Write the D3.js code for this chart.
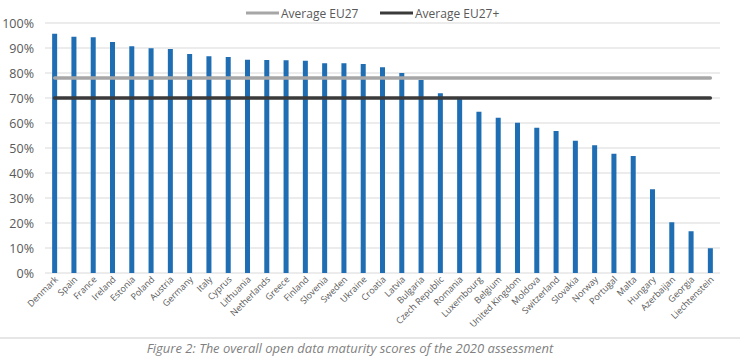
<!DOCTYPE html>
<html><head><meta charset="utf-8">
<script src="https://cdn.jsdelivr.net/npm/d3@7"></script>
<style>body{margin:0;background:#fff}svg{display:block}</style>
</head><body><svg id="c" width="740" height="358"></svg>
<script>
const countries = ["Denmark","Spain","France","Ireland","Estonia","Poland","Austria","Germany","Italy","Cyprus","Lithuania","Netherlands","Greece","Finland","Slovenia","Sweden","Ukraine","Croatia","Latvia","Bulgaria","Czech Republic","Romania","Luxembourg","Belgium","United Kingdom","Moldova","Switzerland","Slovakia","Norway","Portugal","Malta","Hungary","Azerbaijan","Georgia","Liechtenstein"];
const scores = [95.7,94.5,94.3,92.4,90.7,89.9,89.6,87.6,86.7,86.4,85.3,85.2,85.1,84.9,83.9,83.9,83.6,82.3,80.0,77.2,71.9,69.9,64.5,62.1,60.1,58.1,56.8,52.9,51.1,47.7,46.8,33.5,20.3,16.7,9.9];
const avgEU27 = 78;
const avgEU27plus = 70;
const yTicks = [0,10,20,30,40,50,60,70,80,90,100];
const legendLabels = ["Average EU27","Average EU27+"];
const caption = "Figure 2: The overall open data maturity scores of the 2020 assessment";

const svg = d3.select("#c");
const font = "'Open Sans', sans-serif";
const m = {left:45, right:20, top:23, bottom:85};
const W = 740, H = 358;
const x = d3.scaleBand().domain(countries).range([m.left, W - m.right]).paddingInner(0.74).paddingOuter(0.37);
const y = d3.scaleLinear().domain([0,100]).range([273, 23]);

// grid
svg.append("g").selectAll("line").data(yTicks).join("line")
  .attr("x1", m.left).attr("x2", W - m.right)
  .attr("y1", d => y(d)).attr("y2", d => y(d))
  .attr("stroke", "#d9d9d9").attr("stroke-width", 1);

// y axis labels
const ya = svg.append("g").attr("transform", `translate(${m.left},0)`)
  .call(d3.axisLeft(y).tickValues(yTicks).tickFormat(d => d + "%").tickSize(0).tickPadding(11));
ya.select(".domain").remove();
ya.selectAll("text").attr("font-family", font).attr("font-size", 12.5).attr("fill", "#595959");

// bars
svg.append("g").selectAll("rect").data(countries).join("rect")
  .attr("x", d => x(d)).attr("width", x.bandwidth())
  .attr("y", (d,i) => y(scores[i])).attr("height", (d,i) => y(0) - y(scores[i]))
  .attr("fill", "#1f6db3");

// x axis labels
const xa = svg.append("g").attr("transform", `translate(0,${y(0)})`)
  .call(d3.axisBottom(x).tickSize(0).tickPadding(0));
xa.select(".domain").remove();
xa.selectAll("text")
  .attr("font-family", font).attr("font-size", 9).attr("fill", "#595959")
  .attr("text-anchor", "end").attr("dy", 0)
  .attr("transform", "translate(4,7) rotate(-45)");

// average lines
const x0 = x(countries[0]) + x.bandwidth()/2;
const x1 = x(countries[countries.length-1]) + x.bandwidth()/2;
svg.append("line").attr("x1", x0).attr("x2", x1).attr("y1", y(avgEU27)).attr("y2", y(avgEU27))
  .attr("stroke", "#a6a6a6").attr("stroke-width", 3.5).attr("stroke-linecap", "round");
svg.append("line").attr("x1", x0).attr("x2", x1).attr("y1", y(avgEU27plus)).attr("y2", y(avgEU27plus))
  .attr("stroke", "#3a3a3a").attr("stroke-width", 3.5).attr("stroke-linecap", "round");

// legend
const lg = [{label: legendLabels[0], color: "#a6a6a6", x: 246}, {label: legendLabels[1], color: "#3a3a3a", x: 380}];
lg.forEach(l => {
  svg.append("line").attr("x1", l.x).attr("x2", l.x + 33).attr("y1", 13).attr("y2", 13)
    .attr("stroke", l.color).attr("stroke-width", 3);
  svg.append("text").attr("x", l.x + 35).attr("y", 17.5).text(l.label)
    .attr("font-family", font).attr("font-size", 12).attr("fill", "#595959");
});

// separator and caption
svg.append("line").attr("x1", 0).attr("x2", W).attr("y1", 338).attr("y2", 338)
  .attr("stroke", "#e6e6e6").attr("stroke-width", 2);
svg.append("text").attr("x", 350).attr("y", 353).attr("text-anchor", "middle").text(caption)
  .attr("font-family", font).attr("font-style", "italic").attr("font-size", 13).attr("fill", "#7f7f7f");
</script></body></html>
